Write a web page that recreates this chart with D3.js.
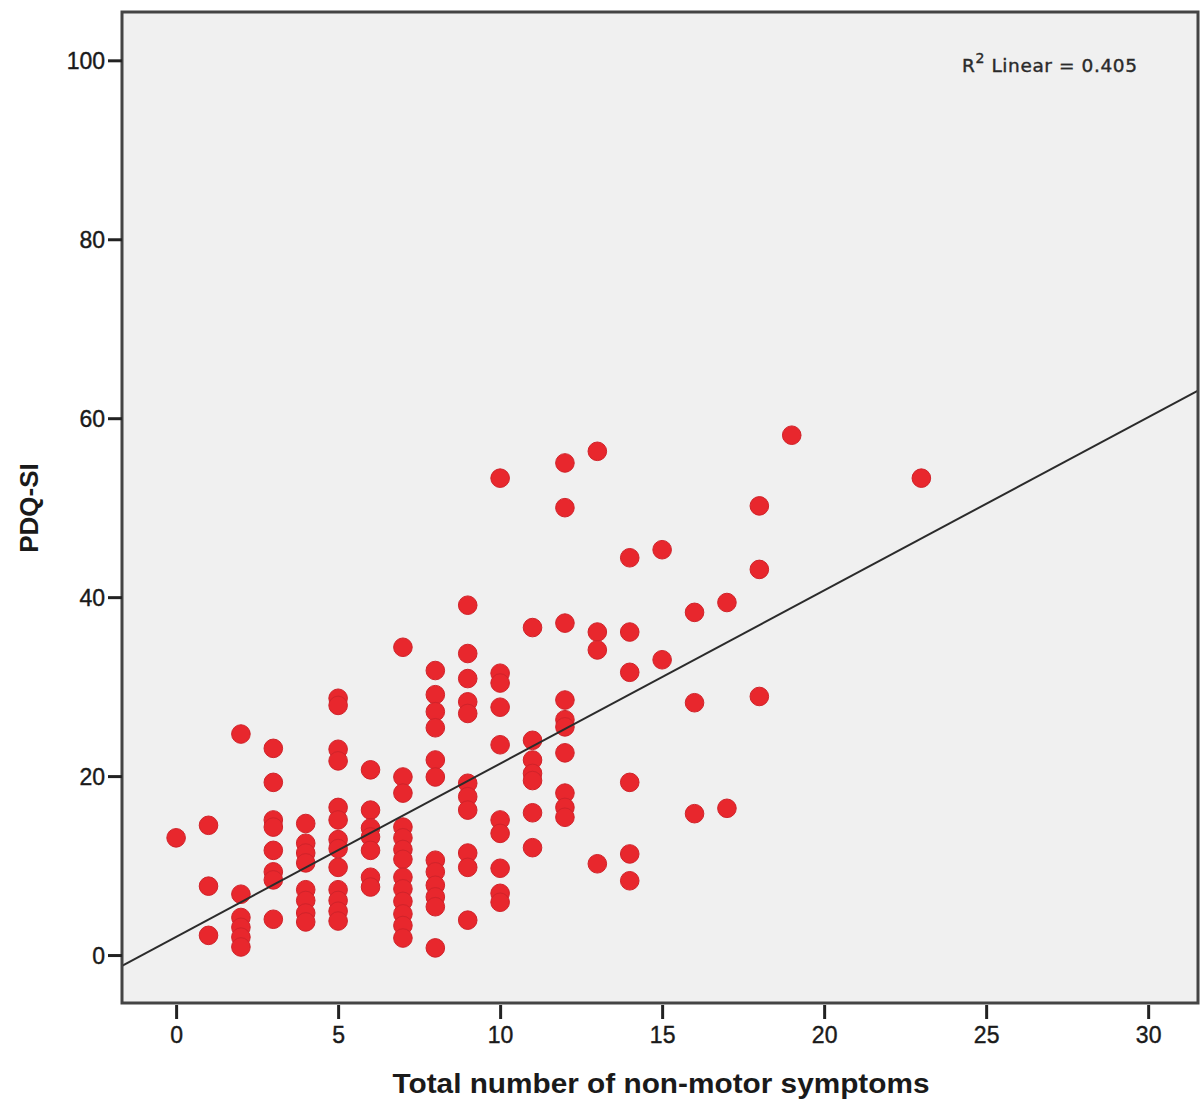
<!DOCTYPE html>
<html>
<head>
<meta charset="utf-8">
<script src="https://cdn.jsdelivr.net/npm/d3@7"></script>
<style>
  body { margin: 0; background: #fff; }
  svg { display: block; }
</style>
</head>
<body>
<div id="chart"></div>
<script>
// values, one row per x column
var symptoms = [
  0,
  1, 1, 1,
  2, 2, 2, 2, 2, 2,
  3, 3, 3, 3, 3, 3, 3, 3,
  4, 4, 4, 4, 4, 4, 4, 4,
  5, 5, 5, 5, 5, 5, 5, 5, 5, 5, 5, 5, 5,
  6, 6, 6, 6, 6, 6, 6,
  7, 7, 7, 7, 7, 7, 7, 7, 7, 7, 7, 7, 7,
  8, 8, 8, 8, 8, 8, 8, 8, 8, 8, 8, 8,
  9, 9, 9, 9, 9, 9, 9, 9, 9, 9, 9,
  10, 10, 10, 10, 10, 10, 10, 10, 10, 10,
  11, 11, 11, 11, 11, 11, 11,
  12, 12, 12, 12, 12, 12, 12, 12, 12, 12,
  13, 13, 13, 13,
  14, 14, 14, 14, 14, 14,
  15, 15,
  16, 16, 16,
  17, 17,
  18, 18, 18,
  19,
  23
];
var pdqsi = [
  13.1,
  14.5, 7.7, 2.2,
  24.7, 6.8, 4.2, 3.1, 2.0, 0.9,
  23.1, 19.3, 15.1, 14.3, 11.7, 9.3, 8.4, 4.0,
  14.7, 12.5, 11.4, 10.3, 7.3, 6.1, 4.7, 3.7,
  28.7, 27.9, 23.0, 21.7, 16.5, 15.1, 12.9, 11.9, 9.8, 7.3, 6.1, 4.9, 3.8,
  20.7, 16.2, 14.2, 13.2, 11.7, 8.7, 7.6,
  34.4, 19.9, 18.1, 14.3, 13.1, 11.8, 10.7, 8.7, 7.4, 6.0, 4.6, 3.3, 1.9,
  31.8, 29.1, 27.2, 25.4, 21.8, 19.9, 10.6, 9.3, 7.8, 6.5, 5.4, 0.8,
  39.1, 33.7, 30.9, 28.3, 27.0, 19.2, 17.7, 16.2, 11.4, 9.8, 3.9,
  53.3, 31.5, 30.4, 27.7, 23.5, 15.1, 13.6, 9.7, 6.9, 5.9,
  36.6, 24.0, 21.8, 20.3, 19.5, 15.9, 12.0,
  55.0, 50.0, 37.1, 28.5, 26.3, 25.5, 22.6, 18.1, 16.5, 15.4,
  56.3, 36.1, 34.1, 10.2,
  44.4, 36.1, 31.6, 19.3, 11.3, 8.3,
  45.3, 33.0,
  38.3, 28.2, 15.8,
  39.4, 16.4,
  50.2, 43.1, 28.9,
  58.1,
  53.3
];

var xTicks = [0, 5, 10, 15, 20, 25, 30];
var yTicks = [0, 20, 40, 60, 80, 100];

// fit line as drawn in the figure
var fitIntercept = 2.03;
var fitSlope = 1.936;
var rSquared = "0.405";

var W = 1200, H = 1109;
var plotL = 122, plotR = 1198, plotT = 12, plotB = 1003;

var x = d3.scaleLinear().domain([-1.67, 31.6]).range([plotL, 1200]);
var y = d3.scaleLinear().domain([-5.36, 105.4]).range([plotB, plotT]);

var svg = d3.select("#chart").append("svg")
    .attr("width", W)
    .attr("height", H);

svg.append("rect").attr("width", W).attr("height", H).attr("fill", "#fff");

svg.append("defs").append("clipPath").attr("id", "plotclip")
  .append("rect")
    .attr("x", plotL).attr("y", plotT)
    .attr("width", plotR - plotL).attr("height", plotB - plotT);

svg.append("rect")
    .attr("x", plotL).attr("y", plotT)
    .attr("width", plotR - plotL).attr("height", plotB - plotT)
    .attr("fill", "#f0f0f0");

var pts = symptoms.map(function(s, i) { return {x: s, y: pdqsi[i]}; });

var plot = svg.append("g").attr("clip-path", "url(#plotclip)");

plot.selectAll("circle.pt")
    .data(pts)
    .enter()
    .append("circle")
    .attr("class", "pt")
    .attr("cx", function(d) { return x(d.x); })
    .attr("cy", function(d) { return y(d.y); })
    .attr("r", 9.3)
    .attr("fill", "#e8272d")
    .attr("stroke", "#d0232a")
    .attr("stroke-width", 1);

var xd = x.domain();
plot.append("line")
    .attr("x1", x(xd[0])).attr("y1", y(fitIntercept + fitSlope * xd[0]))
    .attr("x2", x(xd[1])).attr("y2", y(fitIntercept + fitSlope * xd[1]))
    .attr("stroke", "#2b2b2b")
    .attr("stroke-width", 2);

// frame
svg.append("rect")
    .attr("x", plotL).attr("y", plotT)
    .attr("width", plotR - plotL).attr("height", plotB - plotT)
    .attr("fill", "none")
    .attr("stroke", "#444")
    .attr("stroke-width", 3);

var yAxis = svg.append("g")
    .attr("transform", "translate(" + plotL + ",0)")
    .call(d3.axisLeft(y).tickValues(yTicks).tickSize(14).tickPadding(3));
var xAxis = svg.append("g")
    .attr("transform", "translate(0," + (plotB + 2) + ")")
    .call(d3.axisBottom(x).tickValues(xTicks).tickSize(14).tickPadding(8));

[yAxis, xAxis].forEach(function(a) {
  a.select(".domain").remove();
  a.selectAll(".tick line").attr("stroke", "#222").attr("stroke-width", 3);
  a.selectAll(".tick text")
    .attr("fill", "#1a1a1a")
    .attr("stroke", "#1a1a1a")
    .attr("stroke-width", 0.4)
    .style("font-family", "'Liberation Sans', Arial, sans-serif")
    .style("font-size", "23px");
});
yAxis.selectAll(".tick text").attr("dy", "0.36em");

svg.append("text")
    .attr("x", 661)
    .attr("y", 1093)
    .attr("text-anchor", "middle")
    .attr("textLength", 537)
    .attr("lengthAdjust", "spacingAndGlyphs")
    .style("font-family", "'Liberation Sans', Arial, sans-serif")
    .style("font-weight", "bold")
    .style("font-size", "27px")
    .attr("fill", "#1a1a1a")
    .text("Total number of non-motor symptoms");

svg.append("text")
    .attr("transform", "translate(38,508) rotate(-90)")
    .attr("text-anchor", "middle")
    .style("font-family", "'Liberation Sans', Arial, sans-serif")
    .style("font-weight", "bold")
    .style("font-size", "26px")
    .attr("fill", "#1a1a1a")
    .text("PDQ-SI");

var r2 = svg.append("text")
    .attr("x", 962)
    .attr("y", 72)
    .style("font-family", "'DejaVu Sans', sans-serif")
    .style("font-size", "18.5px")
    .style("letter-spacing", "0.6px")
    .attr("fill", "#2a2a2a")
    .attr("stroke", "#2a2a2a")
    .attr("stroke-width", 0.4);
r2.append("tspan").text("R");
r2.append("tspan").attr("dy", -9).style("font-size", "14px").text("2");
r2.append("tspan").attr("dy", 9).text(" Linear = " + rSquared);
</script>
</body>
</html>
